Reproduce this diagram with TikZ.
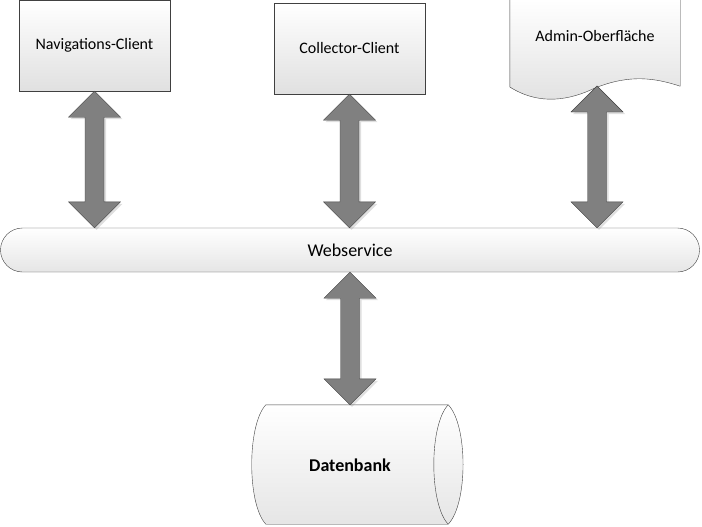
\documentclass[tikz,border=0pt]{standalone}
\usepackage{fontspec}
\setmainfont{Carlito}
\usetikzlibrary{calc,positioning,shadows}

\definecolor{rim}{HTML}{404040}
\definecolor{pipe}{HTML}{808080}

\tikzset{
  box/.style={draw=rim, top color=white, bottom color=black!12,
    minimum width=151pt, minimum height=91pt, inner sep=0pt,
    font=\fontsize{16}{18}\selectfont},
  bus/.style={draw=rim, top color=white, bottom color=black!10,
    rounded corners=22pt, minimum width=699pt, minimum height=44pt,
    font=\fontsize{18}{20}\selectfont},
  ghost/.style={inner sep=0pt},
  biarrow/.style={draw=rim, fill=pipe, line join=miter,
    drop shadow={shadow xshift=2pt, shadow yshift=-2pt, opacity=.25}}
}

% double arrow from #1 (top) down to #2 (bottom)
\newcommand{\biarrow}[2]{%
  \path[biarrow] let \p1=(#1), \p2=(#2) in
    (\x1,\y1) -- (\x1+26pt,\y1-26pt) -- (\x1+9.5pt,\y1-26pt)
    -- (\x1+9.5pt,\y2+26pt) -- (\x1+26pt,\y2+26pt) -- (\x1,\y2)
    -- (\x1-26pt,\y2+26pt) -- (\x1-9.5pt,\y2+26pt)
    -- (\x1-9.5pt,\y1-26pt) -- (\x1-26pt,\y1-26pt) -- cycle;}

\begin{document}
\begin{tikzpicture}[x=1pt, y=-1pt]
  \useasboundingbox (0,0) rectangle (702,527);

  \node [box] (nav)  at (94.5,45.5)  {Navigations-Client};
  \node [box] (coll) at (349.5,48.5) {Collector-Client};
  \node [bus] (ws)   at (350,250)    {Webservice};

  % admin page with wavy bottom
  \node [ghost, minimum width=170pt, minimum height=86pt] (adm) at (595,43) {};
  \draw [draw=rim, top color=white, bottom color=black!12]
    (adm.north west) -- (adm.north east) -- (adm.south east)
    .. controls (655,78) and (630,74) .. (595,88)
    .. controls (570,100) and (540,106) .. (adm.south west |- 0,87) -- cycle;
  \node [font=\fontsize{16}{18}\selectfont] (admtxt) at (595,36) {Admin-Oberfläche};
  \coordinate (admlow) at (597,86);

  % database drum
  \node [ghost, minimum width=182pt, minimum height=119pt] (db) at (357,464.5) {};
  \draw [draw=rim, top color=white, bottom color=black!10]
    (db.north west) -- (db.north east)
    .. controls (468,425) and (468,504) .. (db.south east)
    -- (db.south west)
    .. controls (247,504) and (247,425) .. (db.north west) -- cycle;
  \draw [rim] (db.north east) .. controls (429,425) and (429,504) .. (db.south east);
  \node [font=\bfseries\fontsize{18}{20}\selectfont] (dbtxt) at (350,465) {Datenbank};

  % connectors
  \biarrow{nav.south}{nav.south |- ws.north}
  \biarrow{coll.south}{coll.south |- ws.north}
  \biarrow{admlow}{admlow |- ws.north}
  \biarrow{ws.south}{ws.south |- db.north}
\end{tikzpicture}
\end{document}
